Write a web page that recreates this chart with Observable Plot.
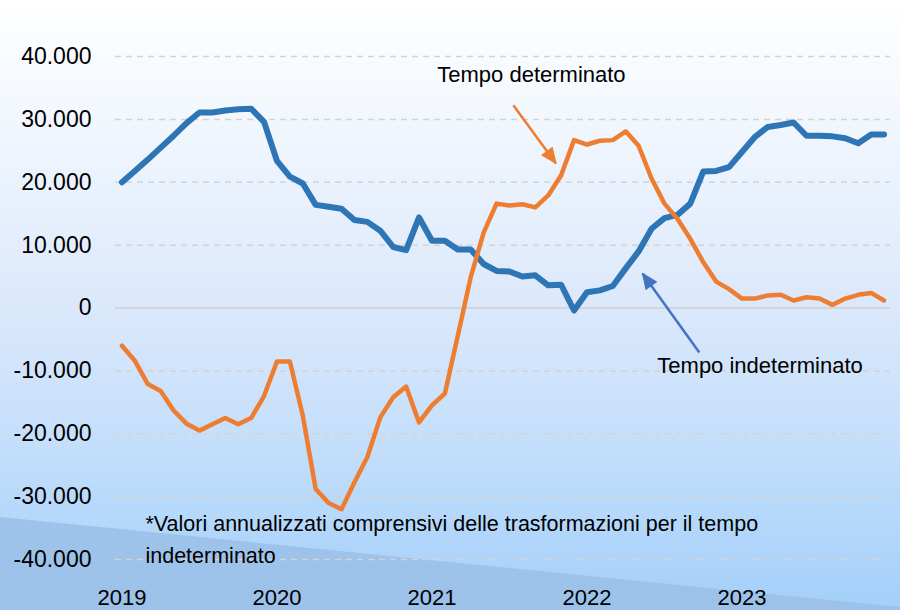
<!DOCTYPE html>
<html>
<head>
<meta charset="utf-8">
<script src="https://cdn.jsdelivr.net/npm/d3@7"></script>
<script src="https://cdn.jsdelivr.net/npm/@observablehq/plot@0.6"></script>
<style>
  html, body { margin: 0; padding: 0; }
  #wrap { position: relative; width: 900px; height: 610px; overflow: hidden;
    background: linear-gradient(to bottom, #ffffff 0%, #f3f8fe 18%, #dde9fb 48%, #c5dffb 72%, #a3cffa 100%); }
  #band { position: absolute; left: 0; top: 0; width: 900px; height: 610px;
    background: linear-gradient(to bottom, #abcbee 0%, #9cc2ea 100%);
    clip-path: polygon(0 517px, 900px 607px, 900px 610px, 0 610px); }
  #chart { position: absolute; left: 0; top: 0; }
</style>
</head>
<body>
<div id="wrap"><div id="band"></div><div id="chart"></div></div>
<script>
// ---- data (monthly, Jan 2019 – Dec 2023) ----
const tempoIndeterminato = [
  20000, 21800, 23600, 25500, 27400, 29400, 31100, 31100, 31400, 31600, 31700, 29600,
  23400, 20900, 19800, 16400, 16100, 15800, 14000, 13700, 12300, 9700, 9200, 14400,
  10700, 10700, 9300, 9300, 7000, 5900, 5800, 5000, 5200, 3600, 3700, -400,
  2500, 2800, 3500, 6300, 9000, 12600, 14300, 14800, 16600, 21700, 21800, 22400,
  24800, 27200, 28800, 29100, 29500, 27400, 27400, 27300, 27000, 26200, 27600, 27600
];
const tempoDeterminato = [
  -6000, -8400, -12100, -13200, -16300, -18400, -19500, -18500, -17500, -18500, -17500, -14000,
  -8500, -8500, -17100, -28800, -31000, -32000, -27700, -23700, -17400, -14200, -12500, -18200,
  -15500, -13600, -4400, 4900, 12000, 16600, 16300, 16500, 16000, 17900, 21100, 26700,
  26000, 26600, 26700, 28100, 25800, 20600, 16600, 14200, 11000, 7300, 4200, 3000,
  1500, 1500, 2000, 2100, 1200, 1700, 1500, 500, 1500, 2100, 2400, 1200
];
const yearLabels = ["2019", "2020", "2021", "2022", "2023"];
const yearTickIndex = [0, 12, 24, 36, 48];
const yTicks = [-40000, -30000, -20000, -10000, 0, 10000, 20000, 30000, 40000];

// annotations (in data units: month index, value)
const labelText = ["Tempo determinato", "Tempo indeterminato"];
const labelX = [31.7, 49.4];
const labelY = [37000, -9270];
const arrowFromX = [30.3, 44.7];
const arrowFromY = [32240, -7080];
const arrowToX = [33.6, 40.3];
const arrowToY = [23000, 5490];
const footnoteLines = ["*Valori annualizzati comprensivi delle trasformazioni per il tempo", "indeterminato"];
const footnoteX = [1.82, 1.82];
const footnoteY = [-34330, -39540];

// ---- build ----
const idx = d3.range(tempoIndeterminato.length);
const rows = idx.map(i => ({i, ind: tempoIndeterminato[i], det: tempoDeterminato[i]}));
const xDomain = [-0.5, idx.length - 0.5];
const yDomain = [-40000, 40000];
const W = 900, H = 610, ML = 115, MR = 10, MT = 56, MB = 51;
const sx = d3.scaleLinear(xDomain, [ML, W - MR]);
const sy = d3.scaleLinear(yDomain, [H - MB, MT]);

const itLocale = d3.formatLocale({decimal: ",", thousands: ".", grouping: [3], currency: ["", ""], minus: "-"});
const fmt = itLocale.format(",");

const labels = labelText.map((t, k) => ({t, x: labelX[k], y: labelY[k]}));
const arrows = arrowFromX.map((_, k) => {
  const x1 = arrowFromX[k], y1 = arrowFromY[k], x2 = arrowToX[k], y2 = arrowToY[k];
  const rot = Math.atan2(sx(x2) - sx(x1), -(sy(y2) - sy(y1))) * 180 / Math.PI;
  return {x1, y1, x2, y2, rot};
});
const notes = footnoteLines.map((t, k) => ({t, x: footnoteX[k], y: footnoteY[k]}));

const head = {
  draw(context, l, r) {
    context.moveTo(0, -l);
    context.lineTo(-r, 0);
    context.lineTo(r, 0);
    context.closePath();
  }
};
const arrowColors = ["#ED7D31", "#4472C4"];

const chart = Plot.plot({
  width: W, height: H,
  marginLeft: ML, marginRight: MR, marginTop: MT, marginBottom: MB,
  style: {background: "transparent", fontFamily: "'Liberation Sans', Arial, sans-serif", color: "#000", overflow: "visible"},
  x: {domain: xDomain, axis: null},
  y: {domain: yDomain, axis: null},
  marks: [
    Plot.gridY(yTicks.filter(d => d !== 0), {stroke: "#d3d3d3", strokeOpacity: 1, strokeWidth: 1.5, strokeDasharray: "6,5"}),
    Plot.ruleY([0], {stroke: "#cfcfcf", strokeWidth: 1.5}),
    Plot.axisY(yTicks, {tickSize: 0, tickPadding: 24, tickFormat: fmt, fontSize: 23, fill: "#000"}),
    Plot.axisX(yearTickIndex, {tickSize: 0, tickPadding: 30, tickFormat: (d) => yearLabels[yearTickIndex.indexOf(d)], fontSize: 22, fill: "#000"}),
    Plot.line(rows, {x: "i", y: "ind", stroke: "#2E75B6", strokeWidth: 6}),
    Plot.line(rows, {x: "i", y: "det", stroke: "#ED7D31", strokeWidth: 4.5}),
    ...arrows.map((a, k) => Plot.link([a], {x1: "x1", y1: "y1", x2: "x2", y2: "y2", stroke: arrowColors[k], strokeWidth: 2.5})),
    ...arrows.map((a, k) => Plot.vector([a], {x: "x2", y: "y2", rotate: "rot", length: 15, r: 6.5, anchor: "end", shape: head, fill: arrowColors[k], stroke: arrowColors[k], strokeWidth: 1})),
    Plot.text(labels, {x: "x", y: "y", text: "t", fontSize: 22, fill: "#000", textAnchor: "middle"}),
    Plot.text(notes, {x: "x", y: "y", text: "t", fontSize: 21.5, fill: "#000", textAnchor: "start"})
  ]
});
document.getElementById("chart").append(chart);
</script>
</body>
</html>
